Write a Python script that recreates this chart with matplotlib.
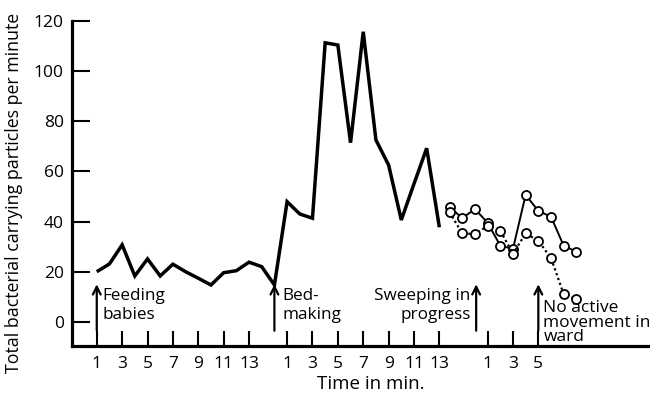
import matplotlib
matplotlib.use("Agg")
import matplotlib.pyplot as plt

plt.rcParams['font.family'] = ['Open Sans', 'DejaVu Sans']

# ---- data ----
# segment offsets on a continuous minute axis
seg_offsets = [0, 15, 30.8]
seg_tick_labels = [[1, 3, 5, 7, 9, 11, 13],
                   [1, 3, 5, 7, 9, 11, 13],
                   [1, 3, 5]]

# main thick line: segment 1 (minutes 1..15) then segment 2 (minutes 1..13)
seg1_minutes = list(range(1, 16))
seg1_values = [20.0, 23.1, 30.7, 18.3, 25.1, 18.3, 23.0, 20.0, 17.4, 14.7,
               19.6, 20.4, 23.8, 22.0, 14.7]
seg2_minutes = list(range(1, 14))
seg2_values = [47.9, 43.0, 41.3, 111.2, 110.3, 71.4, 115.6, 72.5, 62.5, 40.6,
               55.0, 69.2, 37.7]

# segment 3: two open-circle series (minutes relative to segment 3 ticks)
seg3_minutes = list(range(-2, 9))
seg3_solid = [45.9, 41.3, 45.0, 39.5, 30.4, 29.1, 50.6, 44.2, 41.9, 30.3, 28.0]
seg3_dotted = [43.7, 35.3, 35.0, 38.2, 36.4, 27.1, 35.3, 32.3, 25.4, 11.0, 9.2]

y_ticks = [0, 20, 40, 60, 80, 100, 120]

# events: (segment, minute)
events = [(0, 1), (0, 15), (1, 15.9), (2, 5)]

# ---- figure ----
fig = plt.figure(figsize=(6.5, 3.93), dpi=100)
ax = fig.add_axes([0.1108, 0.1196, 0.8892, 0.8277])

lw_main = 2.5
x1 = [seg_offsets[0] + m for m in seg1_minutes]
x2 = [seg_offsets[1] + m for m in seg2_minutes]
ax.plot(x1 + x2, seg1_values + seg2_values, color='black', lw=lw_main,
        solid_joinstyle='miter', solid_capstyle='butt')

x3 = [seg_offsets[2] + m for m in seg3_minutes]
ax.plot(x3, seg3_solid, color='black', lw=1.4, marker='o', ms=6.5,
        mfc='white', mec='black', mew=1.3)
ax.plot(x3, seg3_dotted, color='black', lw=1.6, ls=(0, (1, 1.3)), marker='o',
        ms=6.5, mfc='white', mec='black', mew=1.3)

ax.set_xlim(-0.95, 44.6)
ax.set_ylim(-9.6, 120)

ticks, labels = [], []
for off, labs in zip(seg_offsets, seg_tick_labels):
    for l in labs:
        ticks.append(off + l)
        labels.append(str(l))
ax.set_xticks(ticks)
ax.set_xticklabels(labels, fontsize=12.5)
ax.set_yticks(y_ticks)
ax.set_yticklabels([str(v) for v in y_ticks], fontsize=12.5)
ax.tick_params(axis='x', direction='in', length=11, width=1.5, pad=7)
ax.tick_params(axis='y', direction='in', length=13, width=1.5, pad=6)

for s in ['top', 'right']:
    ax.spines[s].set_visible(False)
for s in ['left', 'bottom']:
    ax.spines[s].set_linewidth(2.3)
ax.spines['left'].set_bounds(-9.6, 120)

ax.set_ylabel('Total bacterial carrying particles per minute', fontsize=12.8)
ax.yaxis.set_label_coords(-0.084, 0.47)
ax.set_xlabel('Time in min.', fontsize=13.5)
ax.xaxis.set_label_coords(0.517, -0.088)

# arrows
for seg, m in events:
    x = seg_offsets[seg] + m
    ax.annotate('', xy=(x, 15), xytext=(x, -3.5),
                arrowprops=dict(arrowstyle='->', lw=1.6, color='black',
                                mutation_scale=14, shrinkA=0, shrinkB=0))

txt_kw = dict(fontsize=12.3, color='black', linespacing=1.2, va='center')
ax.text(seg_offsets[0] + 1.45, 6.5, 'Feeding\nbabies', ha='left', **txt_kw)
ax.text(seg_offsets[0] + 15.65, 6.5, 'Bed-\nmaking', ha='left', **txt_kw)
ax.text(seg_offsets[1] + 15.45, 6.5, 'Sweeping in\nprogress', ha='right',
        multialignment='right', **txt_kw)
ax.text(seg_offsets[2] + 5.4, -0.3, 'No active\nmovement in\nward', ha='left',
        fontsize=12.5, color='black', linespacing=0.9, va='center')

fig.savefig('out.png', dpi=100)
